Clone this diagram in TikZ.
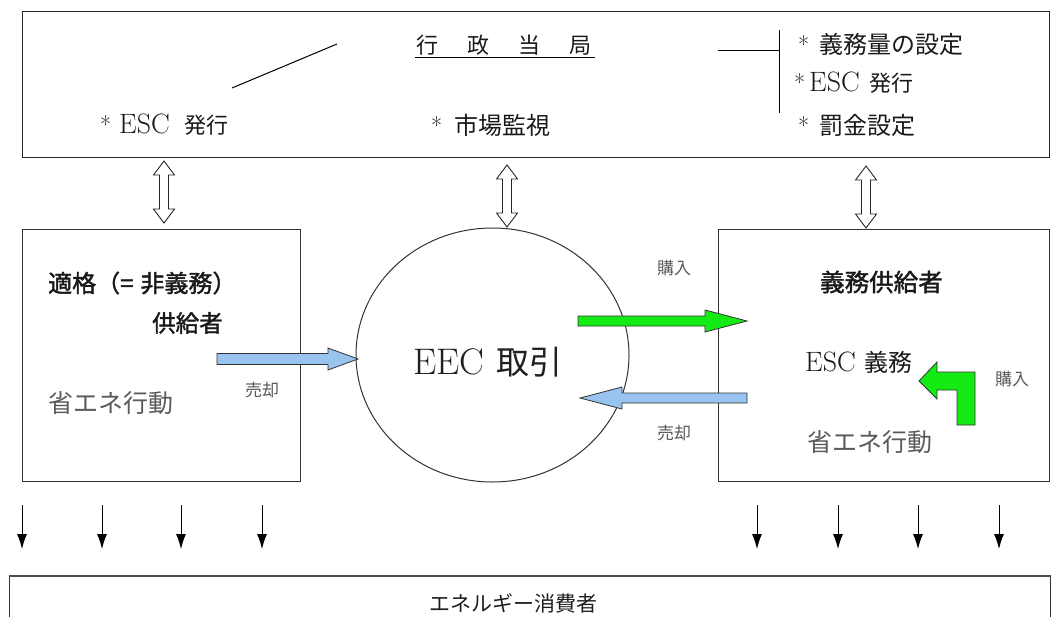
\documentclass[tikz,border=0pt]{standalone}
\usepackage{fontspec}
\newfontfamily\cjk{Noto Sans CJK JP}
\newfontfamily\cjkb[FakeBold=1.6]{Noto Sans CJK JP}
\usetikzlibrary{arrows.meta,shapes.geometric,calc}
\newcommand\fsz[1]{\fontsize{#1pt}{#1pt}\selectfont}
\definecolor{arrblue}{RGB}{153,196,240}
\definecolor{arrgreen}{RGB}{20,235,20}
\definecolor{edge}{RGB}{50,50,50}
\definecolor{graytxt}{RGB}{90,90,90}
\tikzset{
  box/.style={draw=edge, line width=1pt, anchor=north west, inner sep=0, minimum width=#1},
  txt/.style={inner sep=0, anchor=west, text=black!90},
  gtxt/.style={inner sep=0, anchor=west, text=graytxt},
  blockarr/.style={draw=edge, line width=0.8pt, line join=miter},
  hollow/.style={draw=black!85, line width=0.9pt, fill=white, line join=miter},
  downarr/.style={line width=0.9pt, -{Latex[length=15pt,width=10pt]}},
  dblarrow/.pic={\draw[hollow] (0,-31) -- (10.5,-17) -- (4.5,-17) -- (4.5,17) -- (10.5,17) -- (0,31) -- (-10.5,17) -- (-4.5,17) -- (-4.5,-17) -- (-10.5,-17) -- cycle;}
}
\begin{document}
\begin{tikzpicture}[x=1pt,y=-1pt]
\useasboundingbox (0,0) rectangle (1051,616);

% ---------- top box ----------
\node[box=1027pt, minimum height=146pt, line width=1.4pt, draw=black!85] (gov) at (22,11) {};
\node[txt] (title) at (416,45) {\cjk\fsz{22}行\hspace{29pt}政\hspace{29pt}当\hspace{29pt}局};
\draw[line width=1pt] ($(title.west)+(-1,12)$) coordinate (ul1) -- ($(title.east)+(4,12)$) coordinate (ul2);
\coordinate (sl1) at (232,88);
\coordinate (sl2) at (337,44);
\draw[line width=1pt] (sl1) -- (sl2);
\node[txt] (g1) at (100,125) {\fsz{24}*\hspace{8pt}\fsz{28}ESC\hspace{15pt}{\cjk\fsz{22}発行}};
\node[txt] (g2) at (431,125) {\fsz{24}*\hspace{12pt}{\cjk\fsz{24}市場監視}};
\coordinate (hl1) at (718,50);
\coordinate (vl1) at (779,30);
\coordinate (vl2) at (779,113);
\draw[line width=1pt] (hl1) -- (hl1 -| vl1);
\draw[line width=1pt] (vl1) -- (vl2);
\node[txt] (r1) at (798,44) {\fsz{24}*\hspace{10pt}{\cjk\fsz{24}義務量の設定}};
\node[txt] (r2) at (794,83) {\fsz{24}*\hspace{4pt}\fsz{28}ESC\hspace{10pt}{\cjk\fsz{22}発行}};
\node[txt] (r3) at (798,125) {\fsz{24}*\hspace{10pt}{\cjk\fsz{24}罰金設定}};

% ---------- middle ----------
\node[box=278pt, minimum height=252pt] (left) at (22,229) {};
\node[box=331pt, minimum height=252pt] (right) at (718,229) {};
\node[draw=edge, line width=1pt, ellipse, minimum width=273pt, minimum height=254pt, inner sep=0] (eec) at (492.5,355) {};
\node[inner sep=0, text=black!88] (eectext) at (488,362) {\fsz{37}EEC\hspace{12pt}{\cjk\fsz{33}取引}};

% double hollow arrows
\pic at (164,192) {dblarrow};
\pic at (507,196) {dblarrow};
\pic at (866,197) {dblarrow};

% left box text
\node[txt] (l1) at (48,283) {\cjkb\fsz{24}適格（=\hspace{7pt}非義務）};
\node[txt] (l2) at (152,323) {\cjkb\fsz{23.5}供給者};
\node[gtxt] (l3) at (48,403) {\cjk\fsz{25}省エネ行動};
\node[gtxt] (l4) at (245,390) {\cjk\fsz{17}売却};

% right box text
\node[gtxt] (b1) at (657,268) {\cjk\fsz{17}購入};
\node[txt] (b2) at (820,282) {\cjkb\fsz{24.5}義務供給者};
\node[txt] (b3) at (805,362) {\fsz{28}ESC\hspace{9pt}{\cjk\fsz{24}義務}};
\node[gtxt] (b4) at (995,379) {\cjk\fsz{17}購入};
\node[gtxt] (b5) at (657,433) {\cjk\fsz{17}売却};
\node[gtxt] (b6) at (807,442) {\cjk\fsz{25}省エネ行動};

% block arrows
\draw[blockarr, fill=arrblue] (217,353.5) -- (328,353.5) -- (328,348) -- (358,359) -- (328,370) -- (328,364.5) -- (217,364.5) -- cycle;
\draw[blockarr, fill=arrgreen] (578,316) -- (705,316) -- (705,310) -- (747,321) -- (705,332) -- (705,326) -- (578,326) -- cycle;
\draw[blockarr, fill=arrblue] (747,393) -- (622,393) -- (622,387) -- (580,398) -- (622,409) -- (622,403) -- (747,403) -- cycle;
\draw[blockarr, fill=arrgreen] (957,425) -- (975,425) -- (975,372) -- (937,372) -- (937,362) -- (919,381) -- (937,399) -- (937,390) -- (957,390) -- cycle;

% ---------- down arrows ----------
\foreach \x [count=\i] in {22,102,181,262,757,838,918,999}{
  \coordinate (d\i a) at (\x,505);
  \coordinate (d\i b) at (\x,549);
  \draw[downarr] (d\i a) -- (d\i b);
}

% ---------- bottom box ----------
\node[box=1041pt, minimum height=60pt, line width=1pt] (cons) at (9,576) {};
\draw[line width=2pt, draw=black!70] (cons.north west) -- (cons.north east);
\node[inner sep=0, text=black!88] (constext) at (513,603) {\cjk\fsz{21}エネルギー消費者};
\end{tikzpicture}
\end{document}
